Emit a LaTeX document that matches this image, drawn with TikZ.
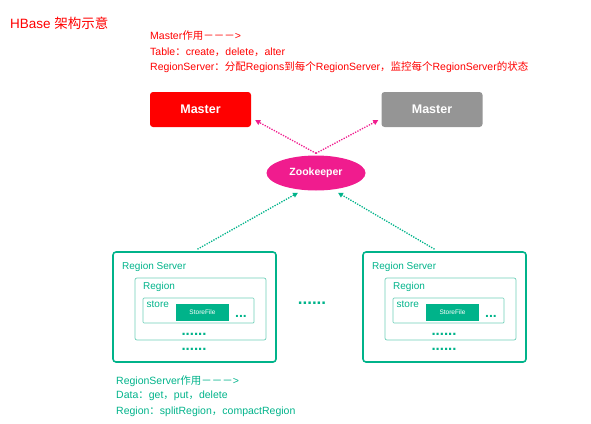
\documentclass[tikz,border=0pt]{standalone}
\usepackage{fontspec}
\setmainfont{Liberation Sans}
\newfontfamily\cjk{Noto Sans CJK SC}
\newcommand{\zh}[1]{{\cjk #1}}
\usetikzlibrary{arrows.meta,shapes.geometric}
\definecolor{hbred}{RGB}{255,0,0}
\definecolor{hbgrey}{RGB}{149,149,149}
\definecolor{hbpink}{RGB}{240,28,142}
\definecolor{hbgreen}{RGB}{0,179,138}
\definecolor{hblight}{RGB}{110,208,184}
\begin{document}
\begin{tikzpicture}[x=1pt,y=-1pt,line join=round,>={Triangle[length=5pt,width=5pt]}]
	\tikzset{
		master/.style={rounded corners=3pt,minimum width=101pt,minimum height=35pt,inner sep=0pt,text=white,font=\fontsize{12.5}{14}\selectfont\bfseries},
		note/.style={anchor=west,inner sep=0pt,font=\fontsize{10}{12}\selectfont},
		dotrow/.style={inner sep=0pt,text=hbgreen,font=\fontsize{15}{15}\selectfont\bfseries},
		zklink/.style={->,hbpink,line width=1.3pt,dash pattern=on 1.3pt off 1.3pt},
		rslink/.style={->,hbgreen,line width=1.3pt,dash pattern=on 1.3pt off 1.3pt},
		rsbox/.style={draw=hbgreen,line width=1.6pt,rounded corners=3pt,minimum width=163pt,minimum height=110pt,inner sep=0pt},
		regbox/.style={draw=hblight,line width=0.7pt,rounded corners=2pt,minimum width=131pt,minimum height=62pt,inner sep=0pt},
		storebox/.style={draw=hblight,line width=0.7pt,rounded corners=1pt,minimum width=111pt,minimum height=25pt,inner sep=0pt},
		filebox/.style={fill=hbgreen,minimum width=53pt,minimum height=17pt,inner sep=0pt,text=white,font=\fontsize{6.5}{7}\selectfont}
	}
	\useasboundingbox (0,0) rectangle (591,423);
	% title and Master notes
	\node[anchor=west,inner sep=0pt,text=hbred,font=\fontsize{13.5}{15}\selectfont] (title) at (10,23) {HBase \zh{架构示意}};
	\node[note,text=hbred,font=\fontsize{10.5}{12}\selectfont] (mnote1) at (150,36) {Master\zh{作用－－－}>};
	\node[note,text=hbred,font=\fontsize{10.5}{12}\selectfont] (mnote2) at (150,52) {Table\zh{：}create\zh{，}delete\zh{，}alter};
	\node[note,text=hbred,font=\fontsize{10.5}{12}\selectfont] (mnote3) at (150,67) {RegionServer\zh{：分配}Regions\zh{到每个}RegionServer\zh{，监控每个}RegionServer\zh{的状态}};
	% masters and zookeeper
	\node[master,fill=hbred] (master1) at (200.5,109.5) {Master};
	\node[master,fill=hbgrey] (master2) at (432,109.5) {Master};
	\node[ellipse,fill=hbpink,minimum width=99pt,minimum height=35pt,inner sep=0pt,text=white,font=\fontsize{10.5}{12}\selectfont\bfseries] (zk) at (316,173) {Zookeeper};
	\draw[zklink] ([yshift=2pt]zk.north) -- ([xshift=4pt,yshift=7pt]master1.south east);
	\draw[zklink] ([yshift=2pt]zk.north) -- ([xshift=-3pt,yshift=7pt]master2.south west);
	% region servers
	\foreach \i/\dx in {1/0,2/250}{
		\begin{scope}[xshift=\dx pt]
			\node[rsbox] (rs\i) at (194.5,307) {};
			\node[note,text=hbgreen] (rslabel\i) at (122,267) {Region Server};
			\node[regbox] (reg\i) at (200.5,309) {};
			\node[note,text=hbgreen] (reglabel\i) at (143,287) {Region};
			\node[storebox] (store\i) at (198.5,310.5) {};
			\node[note,text=hbgreen] (storelabel\i) at (146.5,304) {store};
			\node[filebox] (file\i) at (202.5,312.5) {StoreFile};
			\node[dotrow,font=\fontsize{14}{14}\selectfont\bfseries] (fdots\i) at (241,316) {...};
			\node[dotrow] (sdots\i) at (194,334) {......};
			\node[dotrow] (rdots\i) at (194,349) {......};
		\end{scope}
	}
	\node[dotrow,font=\fontsize{17}{17}\selectfont\bfseries] (mdots) at (312,303) {......};
	\draw[rslink] ([xshift=3pt,yshift=2pt]rs1.north) -- ([xshift=-18pt,yshift=-2pt]zk.south);
	\draw[rslink] ([xshift=-10pt,yshift=2pt]rs2.north) -- ([xshift=22pt,yshift=-2pt]zk.south);
	% RegionServer notes
	\node[note,text=hbgreen,font=\fontsize{10.5}{12}\selectfont] (rnote1) at (116,381) {RegionServer\zh{作用－－－}>};
	\node[note,text=hbgreen,font=\fontsize{10.5}{12}\selectfont] (rnote2) at (116,396) {Data\zh{：}get\zh{，}put\zh{，}delete};
	\node[note,text=hbgreen,font=\fontsize{10.5}{12}\selectfont] (rnote3) at (116,412) {Region\zh{：}splitRegion\zh{，}compactRegion};
\end{tikzpicture}
\end{document}
